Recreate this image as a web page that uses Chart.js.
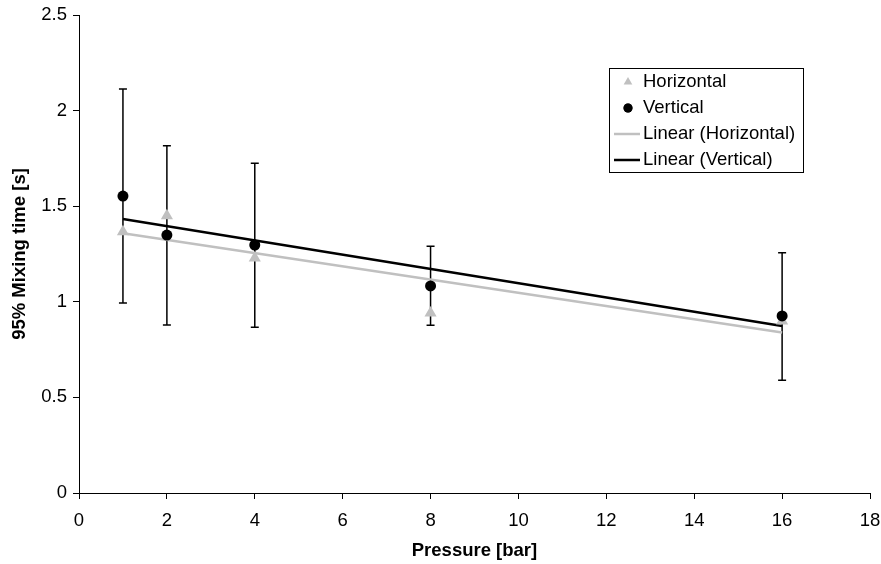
<!DOCTYPE html>
<html>
<head>
<meta charset="utf-8">
<script src="https://cdn.jsdelivr.net/npm/chart.js@4/dist/chart.umd.min.js"></script>
<style>
  html, body { margin: 0; padding: 0; background: #fff; }
  canvas { display: block; }
</style>
</head>
<body>
<canvas id="chart" width="881" height="564"></canvas>
<script>
// pressure [bar]
var pressures = [1, 2, 4, 8, 16];
// 95% mixing time [s]
var horizontalTimes = [1.367, 1.450, 1.229, 0.941, 0.900];
var verticalTimes = [1.553, 1.349, 1.297, 1.083, 0.926];
// error bar limits (vertical series)
var verticalUpper = [2.113, 1.816, 1.724, 1.290, 1.257];
var verticalLower = [0.994, 0.879, 0.867, 0.877, 0.590];
// linear trend line end points
var trendX = [1, 16];
var trendHorizontal = [1.359, 0.840];
var trendVertical = [1.433, 0.874];

var xTicks = [0, 2, 4, 6, 8, 10, 12, 14, 16, 18];
var yTicks = [0, 0.5, 1, 1.5, 2, 2.5];

var FONT = 'Liberation Sans, Arial, sans-serif';
var GREY = '#c0c0c0';

function toPoints(xs, ys) {
    return xs.map(function(x, i) { return { x: x, y: ys[i] }; });
}

var errorBarPlugin = {
    id: 'errorBars',
    beforeDatasetsDraw: function(chart) {
        var ctx = chart.ctx;
        var xs = chart.scales.x;
        var ys = chart.scales.y;
        ctx.save();
        ctx.strokeStyle = '#000';
        ctx.lineWidth = 1.5;
        pressures.forEach(function(p, i) {
            var px = xs.getPixelForValue(p);
            var top = ys.getPixelForValue(verticalUpper[i]);
            var bot = ys.getPixelForValue(verticalLower[i]);
            ctx.beginPath();
            ctx.moveTo(px, top);
            ctx.lineTo(px, bot);
            ctx.moveTo(px - 4, top);
            ctx.lineTo(px + 4, top);
            ctx.moveTo(px - 4, bot);
            ctx.lineTo(px + 4, bot);
            ctx.stroke();
        });
        ctx.restore();
    }
};

var legendPlugin = {
    id: 'boxLegend',
    afterDraw: function(chart) {
        var ctx = chart.ctx;
        var left = 609, top = 68, width = 194, height = 104;
        var rows = [82, 108, 134, 160];
        var ds = chart.data.datasets;
        ctx.save();
        ctx.fillStyle = '#fff';
        ctx.fillRect(left, top, width, height);
        ctx.strokeStyle = '#000';
        ctx.lineWidth = 1;
        ctx.strokeRect(left + 0.5, top + 0.5, width, height);
        ctx.font = '18.5px ' + FONT;
        ctx.textBaseline = 'middle';
        ctx.textAlign = 'left';
        ds.forEach(function(d, i) {
            var y = rows[i];
            if (d.showLine) {
                ctx.strokeStyle = d.borderColor;
                ctx.lineWidth = d.borderWidth;
                ctx.beginPath();
                ctx.moveTo(614, y);
                ctx.lineTo(640, y);
                ctx.stroke();
            } else {
                Chart.helpers.drawPoint(ctx, {
                    pointStyle: d.pointStyle,
                    radius: d.pointStyle === 'triangle' ? 5 : 4.5,
                    rotation: 0,
                    borderWidth: 0
                }, 628, y);
                ctx.fillStyle = d.backgroundColor;
                ctx.fill();
            }
            ctx.fillStyle = '#000';
            ctx.fillText(d.label, 643, y);
        });
        ctx.restore();
    }
};

var ctx = document.getElementById('chart').getContext('2d');
var chart = new Chart(ctx, {
    type: 'scatter',
    data: {
        datasets: [
            {
                label: 'Horizontal',
                data: toPoints(pressures, horizontalTimes),
                pointStyle: 'triangle',
                pointRadius: 7,
                backgroundColor: GREY,
                borderColor: GREY,
                borderWidth: 0,
                order: 1
            },
            {
                label: 'Vertical',
                data: toPoints(pressures, verticalTimes),
                pointStyle: 'circle',
                pointRadius: 5.5,
                backgroundColor: '#000',
                borderColor: '#000',
                borderWidth: 0,
                order: 0
            },
            {
                label: 'Linear (Horizontal)',
                data: toPoints(trendX, trendHorizontal),
                showLine: true,
                pointRadius: 0,
                borderColor: GREY,
                borderWidth: 2.5,
                order: 3
            },
            {
                label: 'Linear (Vertical)',
                data: toPoints(trendX, trendVertical),
                showLine: true,
                pointRadius: 0,
                borderColor: '#000',
                borderWidth: 2.5,
                order: 2
            }
        ]
    },
    options: {
        responsive: false,
        animation: false,
        events: [],
        layout: { padding: { top: 15, right: 11, left: 0, bottom: 0 } },
        plugins: {
            legend: { display: false },
            tooltip: { enabled: false }
        },
        scales: {
            x: {
                type: 'linear',
                min: 0,
                max: 18,
                afterFit: function(scale) {
                    scale.height = 71;
                    scale.paddingLeft = 0;
                    scale.paddingRight = 0;
                },
                afterBuildTicks: function(scale) {
                    scale.ticks = xTicks.map(function(v) { return { value: v }; });
                },
                border: { color: '#000', width: 1 },
                grid: { drawOnChartArea: false, drawTicks: true, tickLength: 6, color: '#000' },
                ticks: {
                    color: '#000',
                    padding: 11,
                    maxRotation: 0,
                    font: { family: FONT, size: 18.5 },
                    callback: function(v) { return String(v); }
                },
                title: {
                    display: true,
                    text: 'Pressure [bar]',
                    color: '#000',
                    padding: { top: 0, bottom: 2 },
                    font: { family: FONT, size: 18.5, weight: 'bold' }
                }
            },
            y: {
                type: 'linear',
                min: 0,
                max: 2.5,
                afterFit: function(scale) {
                    scale.width = 79;
                    scale.paddingTop = 0;
                    scale.paddingBottom = 0;
                },
                afterBuildTicks: function(scale) {
                    scale.ticks = yTicks.map(function(v) { return { value: v }; });
                },
                border: { color: '#000', width: 1 },
                grid: { drawOnChartArea: false, drawTicks: true, tickLength: 6, color: '#000' },
                ticks: {
                    color: '#000',
                    padding: 6,
                    font: { family: FONT, size: 18.5 },
                    callback: function(v) { return String(v); }
                },
                title: {
                    display: true,
                    text: '95% Mixing time [s]',
                    color: '#000',
                    padding: { top: 9, bottom: 0 },
                    font: { family: FONT, size: 18.5, weight: 'bold' }
                }
            }
        }
    },
    plugins: [errorBarPlugin, legendPlugin]
});
</script>
</body>
</html>
